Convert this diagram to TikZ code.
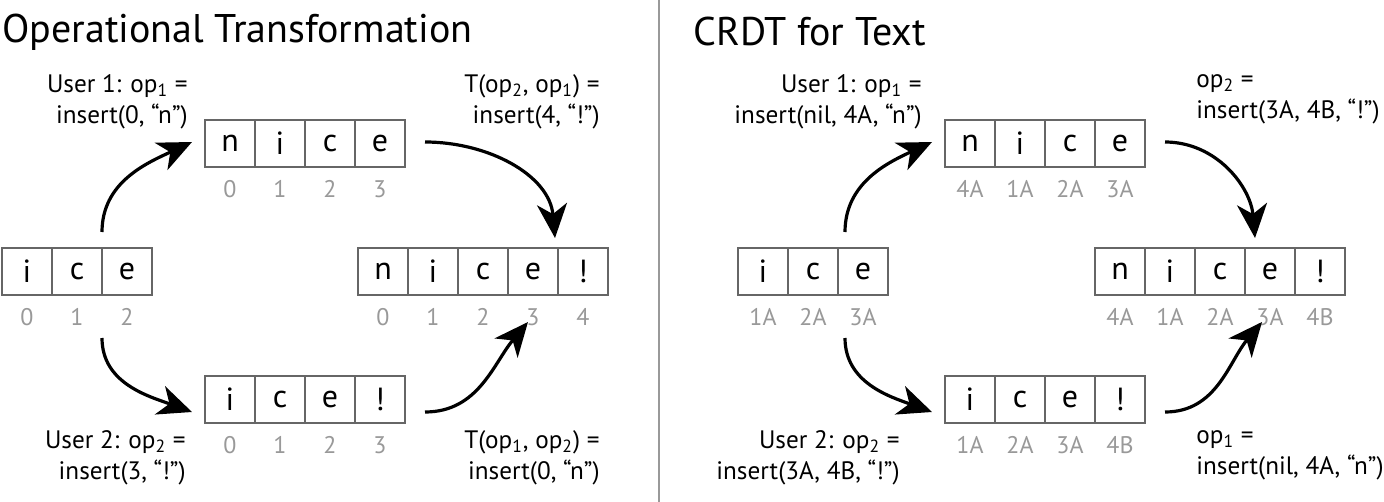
\documentclass[tikz,border=0pt]{standalone}
\usepackage{fontspec}
\setmainfont{PT Sans}
\usetikzlibrary{arrows.meta}
\newcommand\sbs[1]{\textsubscript{#1}}
\begin{document}
\begin{tikzpicture}[x=0.5pt,y=-0.5pt,
  cell/.style={draw=black!60,line width=0.6pt,minimum width=25pt,minimum height=23.5pt,inner sep=0pt,font=\fontsize{16}{16}\selectfont,text=black},
  idx/.style={text=black!40,font=\fontsize{12}{12}\selectfont,inner sep=0pt},
  lbl/.style={font=\fontsize{12.6}{15.5}\selectfont,inner sep=0pt,align=right},
  lbll/.style={font=\fontsize{12.6}{15.5}\selectfont,inner sep=0pt,align=left},
  ttl/.style={font=\fontsize{20}{20}\selectfont,inner sep=0pt,anchor=west},
  arr/.style={line width=1.6pt,-{Stealth[length=17pt,width=15pt,inset=5pt]}}]
\useasboundingbox (0,0) rectangle (1384,502);
\fill[white] (0,0) rectangle (1384,502);
\coordinate (dt) at (659,0); \coordinate (db) at (659,502);
\draw[black!40,line width=0.6pt] (dt) -- (db);
\node[ttl] (t1) at (2,32) {Operational Transformation};
\node[ttl] (t2) at (693,32) {CRDT for Text};
\newcommand\myrow[5]{%
  \foreach \L/\I [count=\k from 0] in {#4}{%
    \node[cell] (#1\k) at ({#2+25+50*\k},{#3+23.5}) {\L};
  }%
  \foreach \I [count=\k from 0] in {#5}{%
    \node[idx] (#1i\k) at ({#2+25+50*\k},{#3+69}) {\I};
  }}
\myrow{a}{2}{248}{i/,c/,e/}{0,1,2}
\myrow{b}{205}{120}{n/,i/,c/,e/}{0,1,2,3}
\myrow{c}{358}{248}{n/,i/,c/,e/,!/}{0,1,2,3,4}
\myrow{d}{205}{376}{i/,c/,e/,!/}{0,1,2,3}
\myrow{e}{738}{248}{i/,c/,e/}{1A,2A,3A}
\myrow{f}{945}{120}{n/,i/,c/,e/}{4A,1A,2A,3A}
\myrow{g}{1095}{248}{n/,i/,c/,e/,!/}{4A,1A,2A,3A,4B}
\myrow{h}{945}{376}{i/,c/,e/,!/}{1A,2A,3A,4B}
\coordinate (p1) at (102,232); \coordinate (q1) at (192,142);
\coordinate (p2) at (425,142); \coordinate (q2) at (555,238);
\coordinate (p3) at (102,338); \coordinate (q3) at (192,412);
\coordinate (p4) at (425,412); \coordinate (q4) at (528,322);
\draw[arr] (p1) to[out=90,in=205] (q1);
\draw[arr] (p2) to[out=0,in=95] (q2);
\draw[arr] (p3) to[out=-90,in=160] (q3);
\draw[arr] (p4) to[out=0,in=230] (q4);
\coordinate (r1) at (845,232); \coordinate (s1) at (932,142);
\coordinate (r2) at (1165,142); \coordinate (s2) at (1255,238);
\coordinate (r3) at (845,338); \coordinate (s3) at (932,412);
\coordinate (r4) at (1165,412); \coordinate (s4) at (1262,322);
\draw[arr] (r1) to[out=90,in=205] (s1);
\draw[arr] (r2) to[out=0,in=95] (s2);
\draw[arr] (r3) to[out=-90,in=160] (s3);
\draw[arr] (r4) to[out=0,in=230] (s4);
\node[lbl,anchor=north east] (l1) at (188,74) {User 1: op\sbs{1} =\\insert(0, “n”)};
\node[lbl,anchor=north east] (l2) at (600,74) {T(op\sbs{2}, op\sbs{1}) =\\insert(4, “!”)};
\node[lbl,anchor=north east] (l3) at (186,430) {User 2: op\sbs{2} =\\insert(3, “!”)};
\node[lbl,anchor=north east] (l4) at (600,430) {T(op\sbs{1}, op\sbs{2}) =\\insert(0, “n”)};
\node[lbl,anchor=north east] (m1) at (922,74) {User 1: op\sbs{1} =\\insert(nil, 4A, “n”)};
\node[lbll,anchor=north west] (m2) at (1196,74) {op\sbs{2} =\\insert(3A, 4B, “!”)};
\node[lbl,anchor=north east] (m3) at (900,430) {User 2: op\sbs{2} =\\insert(3A, 4B, “!”)};
\node[lbll,anchor=north west] (m4) at (1196,430) {op\sbs{1} =\\insert(nil, 4A, “n”)};
\end{tikzpicture}
\end{document}
